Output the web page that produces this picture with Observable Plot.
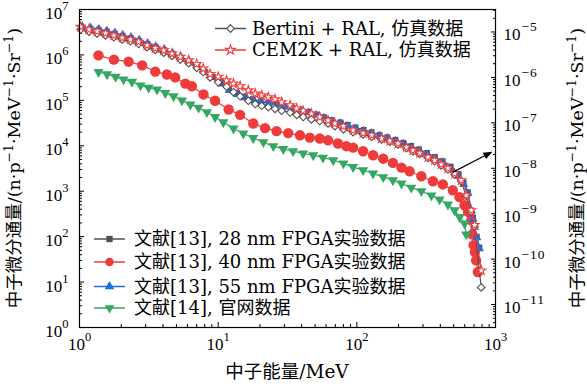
<!DOCTYPE html>
<html><head><meta charset="utf-8">
<script src="https://cdn.jsdelivr.net/npm/d3@7"></script>
<script src="https://cdn.jsdelivr.net/npm/@observablehq/plot@0.6"></script>
<style>body{margin:0;background:#fff;} #chart svg{display:block;}</style>
</head><body><div id="chart"></div>
<script>
// ---------- data (energy in MeV, flux in n·p^-1·MeV^-1·Sr^-1, left-axis units) ----------
const simEnergy = [1.02,1.17,1.34,1.54,1.77,2.03,2.33,2.67,3.07,3.52,4.05,4.64,5.33,6.12,7.0,7.8,8.75,10.0,11.5,12.9,14.4,16.5,18.5,20.6,23,25.7,28.7,33,36.8,41,47,54,62,69.5,80,94,111,128,151,173,198,228,254,284,326,364,406,454,507,566,615,668,706,789];
const bertiniFlux = [3.63e6,3.24e6,2.95e6,2.69e6,2.45e6,2.19e6,2.0e6,1.74e6,1.48e6,1.29e6,1.12e6,9.5e5,7.9e5,6.6e5,5.2e5,4.2e5,3.2e5,2.5e5,2.0e5,1.51e5,1.23e5,9.8e4,8.3e4,7.6e4,7.1e4,6.5e4,5.9e4,5.4e4,4.8e4,4.3e4,3.8e4,3.5e4,3.1e4,2.7e4,2.3e4,2.0e4,1.78e4,1.58e4,1.38e4,1.23e4,1.07e4,8.9e3,7.6e3,6.6e3,5.4e3,4.6e3,3.7e3,3.0e3,2.34e3,1.66e3,7.9e2,3.5e2,1.66e2,7.6];
const cemFlux = [4.17e6,3.63e6,3.31e6,3.02e6,2.69e6,2.40e6,2.19e6,1.95e6,1.62e6,1.41e6,1.26e6,1.07e6,9.1e5,7.6e5,6.3e5,5.0e5,3.8e5,3.3e5,2.75e5,2.34e5,2.04e5,1.66e5,1.41e5,1.29e5,1.17e5,1.05e5,9.1e4,7.8e4,6.6e4,5.9e4,5.1e4,4.3e4,3.6e4,3.1e4,2.7e4,2.2e4,1.9e4,1.7e4,1.45e4,1.29e4,1.12e4,9.3e3,7.9e3,6.9e3,5.6e3,4.8e3,3.9e3,3.2e3,2.45e3,1.74e3,8.1e2,3.8e2,1.8e2,18];

const expEnergy = [1.05,1.2,1.38,1.58,1.8,2.05,2.35,2.7,3.1,3.55,4.1,4.7,5.4,6.2,7.1,8.1,9.2,10.5,12,13.7,15.6,17.8,20.3,23.2,26.5,30.2,34.5,39.4,45,51,58,66,76,86,98,112,128,146,166,190,216,247,281,321,366,417,476,543,590,634,668,690,706,735,767];
const flux28nm = [4.0e6,3.8e6,3.55e6,3.25e6,2.95e6,2.65e6,2.35e6,2.05e6,1.75e6,1.5e6,1.27e6,1.06e6,8.6e5,7.0e5,5.4e5,4.2e5,3.3e5,2.5e5,1.8e5,1.45e5,1.22e5,1.07e5,9.6e4,8.9e4,8.1e4,7.4e4,6.8e4,6.2e4,5.6e4,4.9e4,4.3e4,3.7e4,3.3e4,2.9e4,2.55e4,2.25e4,2.0e4,1.75e4,1.55e4,1.36e4,1.17e4,1.0e4,8.4e3,7.0e3,5.7e3,4.6e3,3.5e3,2.4e3,1.55e3,9.5e2,3.8e2,2.6e2,1.7e2,1.0e2,58];
const flux55nm = [4.17e6,3.98e6,3.72e6,3.39e6,3.09e6,2.75e6,2.45e6,2.14e6,1.82e6,1.55e6,1.32e6,1.10e6,8.9e5,7.2e5,5.5e5,4.2e5,3.2e5,2.3e5,1.66e5,1.35e5,1.15e5,1.02e5,9.3e4,8.7e4,7.9e4,7.2e4,6.6e4,6.0e4,5.4e4,4.7e4,4.1e4,3.5e4,3.1e4,2.7e4,2.4e4,2.14e4,1.9e4,1.66e4,1.48e4,1.29e4,1.10e4,9.3e3,7.8e3,6.5e3,5.2e3,4.3e3,3.2e3,2.14e3,1.41e3,8.9e2,3.5e2,2.4e2,1.62e2,95,54];

const energy40nm = [1.37,1.77,2.26,2.83,3.52,4.27,4.9,5.8,6.46,7.84,9.5,11.9,14.4,17.9,21.8,26.4,32,38.9,45.8,54,62,73,84,94,111,131,155,182,210,240,292,354,417,492,550,598,634,668,680,695,710,725,746];
const flux40nm = [9.8e5,7.9e5,7.1e5,5.9e5,4.3e5,3.7e5,3.2e5,2.34e5,2.04e5,1.35e5,9.8e4,6.3e4,4.8e4,3.1e4,2.45e4,2.1e4,1.9e4,1.7e4,1.51e4,1.45e4,1.32e4,1.12e4,9.8e3,9.1e3,7.6e3,6.2e3,5.2e3,4.2e3,3.3e3,2.75e3,2.14e3,1.66e3,1.41e3,1.05e3,7.4e2,4.9e2,3.5e2,2.3e2,1.12e2,65,46,30,16.6];

const energyWeb = [1.37,1.58,1.82,2.08,2.39,2.75,3.15,3.62,4.16,4.77,5.48,6.3,7.22,8.3,9.5,10.9,12.9,15.2,17.9,21.2,25,29.5,34.7,41,48.5,57,67.6,80,94,111,131,155,182,210,247,292,345,395,454,507,551,598,615];
const fluxWeb = [4.2e5,3.76e5,3.3e5,2.9e5,2.57e5,2.14e5,1.9e5,1.74e5,1.45e5,1.23e5,1.0e5,8.1e4,6.9e4,5.5e4,4.3e4,3.3e4,2.4e4,1.86e4,1.48e4,1.2e4,9.8e3,8.5e3,7.6e3,6.8e3,6.2e3,5.5e3,4.8e3,4.1e3,3.4e3,2.9e3,2.45e3,2.04e3,1.74e3,1.48e3,1.2e3,1.0e3,8.1e2,6.6e2,5.1e2,3.8e2,2.7e2,1.95e2,1.12e2];

const xTicks = [1, 10, 100, 1000];
const yTicks = [1, 10, 100, 1e3, 1e4, 1e5, 1e6, 1e7];
const rightTicks = [1e-5, 1e-6, 1e-7, 1e-8, 1e-9, 1e-10, 1e-11];
const rightFactor = 3.2e11; // left-axis value = right-axis value × factor

const labels = {
  bertini: "Bertini + RAL, 仿真数据",
  cem: "CEM2K + RAL, 仿真数据",
  n28: "文献[13], 28 nm FPGA实验数据",
  n40: "文献[13], 40 nm FPGA实验数据",
  n55: "文献[13], 55 nm FPGA实验数据",
  web: "文献[14], 官网数据"
};
const arrowNote = [{E1: 490, F1: 2.6e3, E2: 935, F2: 7.2e3}];

// ---------- helpers ----------
const zip = (E, F) => E.map((e, i) => ({E: e, F: F[i]}));
const minors = (lo, hi) => { const out = []; for (let n = lo; n <= hi; n++) for (let m = 2; m <= 9; m++) out.push(m * 10 ** n); return out; };
const triangleDown = {
  draw(context, size) {
    const y = Math.sqrt(size / (Math.sqrt(3) * 3));
    context.moveTo(0, y * 2);
    context.lineTo(-Math.sqrt(3) * y, -y);
    context.lineTo(Math.sqrt(3) * y, -y);
    context.closePath();
  }
};
const C = {gray: "#505050", red: "#ef3b3b", blue: "#1f6ee0", green: "#34a760"};
const sup = e => "10^" + e;
const supR = d => "10^" + String(Math.round(Math.log10(d / rightFactor))).replace("-", "−");

const d28 = zip(expEnergy, flux28nm), d55 = zip(expEnergy, flux55nm);
const d40 = zip(energy40nm, flux40nm), dWeb = zip(energyWeb, fluxWeb);
const dBer = zip(simEnergy, bertiniFlux), dCem = zip(simEnergy, cemFlux);

const xMinor = minors(0, 2);
const yMinor = minors(0, 6);
const rMajor = rightTicks.map(r => r * rightFactor);
const rMinor = minors(-12, -5).map(r => r * rightFactor).filter(v => v >= 1 && v <= 1e7);

const plot = Plot.plot({
  width: 587, height: 387,
  marginLeft: 79, marginRight: 92, marginTop: 9, marginBottom: 60,
  x: {type: "log", domain: [1, 1000]},
  y: {type: "log", domain: [1, 1e7]},
  style: {fontFamily: "'Liberation Serif', serif", fontSize: "17px", color: "black", background: "white", overflow: "visible"},
  marks: [
    // axes ticks (inward)
    Plot.axisX(xTicks, {anchor: "bottom", tickSize: -5, fill: "none", label: null}),
    Plot.axisX(xMinor, {anchor: "bottom", tickSize: -3, fill: "none", label: null}),
    Plot.axisX(xTicks, {anchor: "bottom", tickSize: -5, tickPadding: 15, stroke: "none", tickFormat: d => sup(Math.round(Math.log10(d))), label: null}),
    Plot.axisY(yTicks, {anchor: "left", tickSize: -5, fill: "none", label: null}),
    Plot.axisY(yMinor, {anchor: "left", tickSize: -3, fill: "none", label: null}),
    Plot.axisY(yTicks, {anchor: "left", tickSize: -5, tickPadding: 16, dy: 4, stroke: "none", tickFormat: d => sup(Math.round(Math.log10(d))), label: null}),
    Plot.axisY(rMajor, {anchor: "right", tickSize: -5, fill: "none", label: null}),
    Plot.axisY(rMinor, {anchor: "right", tickSize: -3, fill: "none", label: null}),
    Plot.text(rMajor, {y: d => d, frameAnchor: "right", dx: 8, dy: 3, textAnchor: "start", text: supR, fill: "black", fontSize: 17}),
    // series
    Plot.line(d28, {x: "E", y: "F", stroke: C.gray, strokeWidth: 1.2}),
    Plot.dot(d28, {x: "E", y: "F", symbol: "square", r: 3.2, fill: C.gray}),
    Plot.line(d40, {x: "E", y: "F", stroke: C.red, strokeWidth: 1.2}),
    Plot.dot(d40, {x: "E", y: "F", symbol: "circle", r: 5.2, fill: C.red}),
    Plot.line(d55, {x: "E", y: "F", stroke: C.blue, strokeWidth: 1.2}),
    Plot.dot(d55, {x: "E", y: "F", symbol: "triangle", r: 3.3, fill: C.blue}),
    Plot.line(dWeb, {x: "E", y: "F", stroke: C.green, strokeWidth: 1.2}),
    Plot.dot(dWeb, {x: "E", y: "F", symbol: triangleDown, r: 3.8, fill: C.green}),
    Plot.line(dBer, {x: "E", y: "F", stroke: C.gray, strokeWidth: 1.2}),
    Plot.dot(dBer, {x: "E", y: "F", symbol: "diamond2", r: 3.4, fill: "white", stroke: C.gray, strokeWidth: 1.1}),
    Plot.line(dCem, {x: "E", y: "F", stroke: C.red, strokeWidth: 1.2}),
    Plot.dot(dCem, {x: "E", y: "F", symbol: "star", r: 2.9, fill: "white", stroke: C.red, strokeWidth: 1.1}),
    // annotation arrow
    Plot.link(arrowNote, {x1: "E1", y1: "F1", x2: "E2", y2: "F2", stroke: "black", strokeWidth: 1.2}),
    Plot.frame({stroke: "black", strokeWidth: 1.2})
  ]
});
document.getElementById("chart").appendChild(plot);

const svg = d3.select(plot);
const CJK = "'DejaVu Serif', 'Noto Sans CJK SC', serif";

// superscripts on tick labels
svg.selectAll("text").filter(function () { return this.textContent.includes("^"); }).each(function () {
  const t = d3.select(this);
  const [base, ex] = t.text().split("^");
  t.text(null);
  t.append("tspan").text(base);
  const neg = ex.startsWith("−");
  t.append("tspan").attr("dy", -9).attr("font-size", neg ? 13.5 : 12.5)
    .attr("letter-spacing", neg ? 1 : 0).attr("dx", neg ? 1 : 0).text(ex);
});

// filled arrow head
const defs = svg.insert("defs", ":first-child");
defs.append("marker").attr("id", "ahead").attr("viewBox", "0 0 10 10").attr("refX", 9).attr("refY", 5)
  .attr("markerWidth", 9).attr("markerHeight", 9).attr("markerUnits", "userSpaceOnUse").attr("orient", "auto")
  .append("path").attr("d", "M0,1L10,5L0,9z").attr("fill", "black");
svg.selectAll('g[aria-label="link"] path').attr("marker-end", "url(#ahead)");

// axis titles
function titleText(g) {
  g.append("tspan").text("中子微分通量/(n·p");
  const parts = ["·MeV", "·Sr", ")"];
  parts.forEach(p => {
    g.append("tspan").attr("dy", -7).attr("font-size", 12.5).text("−1");
    g.append("tspan").attr("dy", 7).text(p);
  });
}
const fs = 17.5;
titleText(svg.append("text").attr("transform", "translate(20,168) rotate(-90)").attr("text-anchor", "middle")
  .attr("font-family", CJK).attr("font-size", fs).attr("fill", "#000"));
titleText(svg.append("text").attr("transform", "translate(583,168) rotate(-90)").attr("text-anchor", "middle")
  .attr("font-family", CJK).attr("font-size", fs).attr("fill", "#000"));
svg.append("text").attr("x", 287).attr("y", 378).attr("text-anchor", "middle")
  .attr("font-family", CJK).attr("font-size", 18.5).attr("fill", "black").text("中子能量/MeV");

// legends
function legendRow(x0, x1, y, color, symbol, size, fill, textX, label) {
  const g = svg.append("g");
  g.append("line").attr("x1", x0).attr("x2", x1).attr("y1", y).attr("y2", y).attr("stroke", color).attr("stroke-width", 1.5);
  g.append("path").attr("d", d3.symbol(symbol, size)()).attr("transform", `translate(${(x0 + x1) / 2},${y})`)
    .attr("fill", fill).attr("stroke", fill === "white" ? color : "none").attr("stroke-width", 1.1);
  g.append("text").attr("x", textX).attr("y", y).attr("dy", "0.36em").attr("text-anchor", "start")
    .attr("font-family", CJK).attr("font-size", 18).attr("fill", "black").text(label);
}
legendRow(215, 246, 28.5, C.gray, d3.symbolDiamond2, 38, "white", 252, labels.bertini);
legendRow(215, 246, 50, C.red, d3.symbolStar, 30, "white", 252, labels.cem);
legendRow(94, 125, 239, C.gray, d3.symbolSquare, 40, C.gray, 134, labels.n28);
legendRow(94, 125, 262, C.red, d3.symbolCircle, 55, C.red, 134, labels.n40);
legendRow(94, 125, 286.5, C.blue, d3.symbolTriangle, 40, C.blue, 134, labels.n55);
legendRow(94, 125, 308, C.green, triangleDown, 40, C.green, 134, labels.web);
</script>
</body></html>
